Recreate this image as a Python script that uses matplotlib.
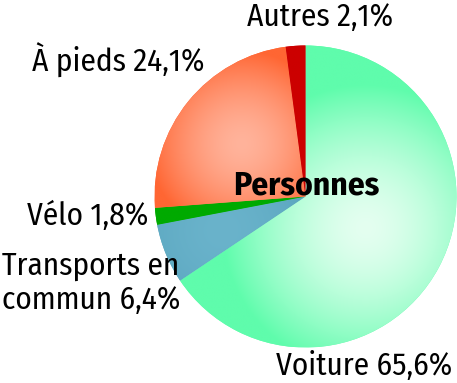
import numpy as np
import matplotlib
matplotlib.use('Agg')
import matplotlib.pyplot as plt
from matplotlib.colors import to_rgb

plt.rcParams['font.family'] = ['Fira Sans Condensed', 'PT Sans Narrow',
                               'Roboto Condensed', 'DejaVu Sans']

labels = ['Voiture', 'Transports en\ncommun', 'Vélo', 'À pieds', 'Autres']
shares = [65.6, 6.4, 1.8, 24.1, 2.1]
title = 'Personnes'

# edge colour, centre colour of each radial gradient
edge_cols = ['#5ffcac', '#5aa6bf', '#00aa00', '#ff6633', '#cc0000']
mid_cols = ['#e4fff0', '#6ab3cb', '#00aa00', '#ffb39b', '#cc0000']
grad_pos = [0.45, 0.6, 0.6, 0.55, 0.6]
grad_rad = [0.95, 0.6, 0.6, 0.62, 0.6]

W, H = 457, 383
cx, cy, r = 305.5, 186.5, 151

fig = plt.figure(figsize=(W / 100, H / 100), dpi=100)
ax = fig.add_axes([0, 0, 1, 1])

wedges, _ = ax.pie(shares, center=(cx, cy), radius=r, startangle=90,
                   counterclock=False, frame=True,
                   wedgeprops=dict(linewidth=0))
ax.set_xlim(0, W)
ax.set_ylim(0, H)
ax.set_aspect('equal')
ax.axis('off')

xs = np.linspace(cx - r, cx + r, 400)
ys = np.linspace(cy - r, cy + r, 400)
gx, gy = np.meshgrid(xs, ys)
for w, ec, mc, gp, gr in zip(wedges, edge_cols, mid_cols, grad_pos, grad_rad):
    w.set_facecolor(ec)
    mid = np.deg2rad((w.theta1 + w.theta2) / 2)
    px, py = cx + gp * r * np.cos(mid), cy + gp * r * np.sin(mid)
    d = np.hypot(gx - px, gy - py) / (gr * r)
    t = np.clip(d, 0, 1) ** 1.6
    img = (1 - t)[..., None] * np.array(to_rgb(mc)) + t[..., None] * np.array(to_rgb(ec))
    im = ax.imshow(img, extent=(cx - r, cx + r, cy - r, cy + r), origin='lower',
                   interpolation='bilinear', zorder=w.get_zorder() + 0.1)
    im.set_clip_path(w)

fs = 22.5
pct = [f'{v:.1f}%'.replace('.', ',') for v in shares]
ax.text(452, 17, f'{labels[0]} {pct[0]}', ha='right', va='center', fontsize=fs)
ax.text(2, 100, f'{labels[1]} {pct[1]}', ha='left', va='center', fontsize=fs,
        linespacing=1.2)
ax.text(148, 167, f'{labels[2]} {pct[2]}', ha='right', va='center', fontsize=fs)
ax.text(205, 323, f'{labels[3]} {pct[3]}', ha='right', va='center', fontsize=fs)
ax.text(247, 366, f'{labels[4]} {pct[4]}', ha='left', va='center', fontsize=fs)
ax.text(cx + 1, cy + 11, title, ha='center', va='center', fontsize=24,
        fontweight='bold', zorder=10)

fig.savefig('out.png', dpi=100)
